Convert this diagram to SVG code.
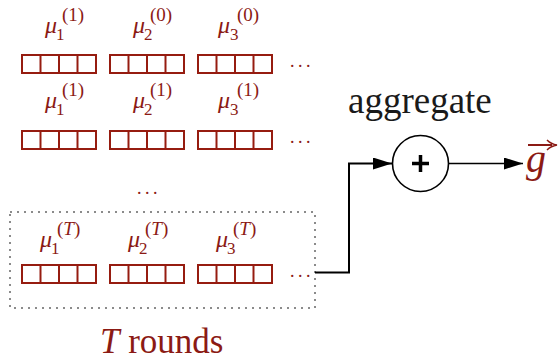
<svg xmlns="http://www.w3.org/2000/svg" width="558" height="362" viewBox="0 0 558 362">
<style>
.cell{fill:none;stroke:#961c10;stroke-width:2}
.lbl{font-family:'Liberation Serif';fill:#8b1a14}
.mu{font-size:24px;font-style:italic}
.sub{font-size:17px}
.sup{font-size:19px}
.dots{font-family:'Liberation Serif';font-size:18px;fill:#8b1a14;letter-spacing:3.5px}
.conn{fill:none;stroke:#000}
</style>
<defs>
<marker id="ah" markerWidth="20" markerHeight="12" refX="19" refY="6" orient="auto" markerUnits="userSpaceOnUse">
<path d="M0,0 L19,6 L0,12 z" fill="#000"/>
</marker>
<g id="vec">
<rect class="cell" x="0" y="0" width="74" height="18"/>
<line class="cell" x1="18.5" y1="0" x2="18.5" y2="18"/>
<line class="cell" x1="37" y1="0" x2="37" y2="18"/>
<line class="cell" x1="55.5" y1="0" x2="55.5" y2="18"/>
</g>
</defs>
<rect width="558" height="362" fill="#fff"/>

<g id="round1">
<use href="#vec" x="22" y="55"/><use href="#vec" x="110" y="55"/><use href="#vec" x="198" y="55"/>
<text class="dots" x="290" y="67">...</text>
<text class="lbl mu" x="45" y="33">μ</text><text class="lbl sub" x="56" y="40">1</text><text class="lbl sup" x="62" y="21">(1)</text>
<text class="lbl mu" x="133" y="33">μ</text><text class="lbl sub" x="144" y="40">2</text><text class="lbl sup" x="150" y="21">(0)</text>
<text class="lbl mu" x="218" y="33">μ</text><text class="lbl sub" x="230" y="40">3</text><text class="lbl sup" x="237" y="21">(0)</text>
</g>

<g id="round2">
<use href="#vec" x="22" y="131"/><use href="#vec" x="110" y="131"/><use href="#vec" x="198" y="131"/>
<text class="dots" x="290" y="143">...</text>
<text class="lbl mu" x="45" y="108">μ</text><text class="lbl sub" x="56" y="115">1</text><text class="lbl sup" x="62" y="96">(1)</text>
<text class="lbl mu" x="133" y="108">μ</text><text class="lbl sub" x="144" y="115">2</text><text class="lbl sup" x="150" y="96">(1)</text>
<text class="lbl mu" x="218" y="108">μ</text><text class="lbl sub" x="230" y="115">3</text><text class="lbl sup" x="237" y="96">(1)</text>
</g>

<g id="middots">
<text class="dots" x="137" y="194">...</text>
</g>

<g id="roundT">
<rect x="10" y="212" width="305" height="96" fill="none" stroke="#666" stroke-width="1.5" stroke-dasharray="2 5"/>
<use href="#vec" x="22" y="265"/><use href="#vec" x="110" y="265"/><use href="#vec" x="198" y="265"/>
<text class="dots" x="290" y="277">...</text>
<text class="lbl mu" x="40" y="247">μ</text><text class="lbl sub" x="51" y="254">1</text><text class="lbl sup" x="57" y="235">(<tspan font-style="italic">T</tspan>)</text>
<text class="lbl mu" x="128" y="247">μ</text><text class="lbl sub" x="139" y="254">2</text><text class="lbl sup" x="145" y="235">(<tspan font-style="italic">T</tspan>)</text>
<text class="lbl mu" x="216" y="247">μ</text><text class="lbl sub" x="227" y="254">3</text><text class="lbl sup" x="233" y="235">(<tspan font-style="italic">T</tspan>)</text>
<text class="lbl" x="100" y="353" font-size="35"><tspan font-style="italic">T</tspan> rounds</text>
</g>

<g id="aggregate">
<text x="348" y="113" style="font-family:'Liberation Serif';font-size:37px;fill:#1a1a1a">aggregate</text>
<circle cx="420.5" cy="163.5" r="28" fill="#fff" stroke="#000" stroke-width="1.6"/>
<path d="M420.5,155 V172 M412,163.5 H429" stroke="#000" stroke-width="3.5"/>
</g>

<g id="output">
<text x="526" y="172" font-family="Liberation Serif" font-size="40" font-style="italic" fill="#8b1a14">g</text>
<line x1="528" y1="145" x2="552" y2="145" stroke="#8b1a14" stroke-width="2"/>
<path d="M547,140 Q551,144 557,145 Q551,146 547,150" fill="none" stroke="#8b1a14" stroke-width="1.5"/>
</g>

<g id="connectors">
<path class="conn" d="M315,272.5 H349 V163.5 H392" stroke-width="2" marker-end="url(#ah)"/>
<path class="conn" d="M449,163.5 H523" stroke-width="1.5" marker-end="url(#ah)"/>
</g>
</svg>
